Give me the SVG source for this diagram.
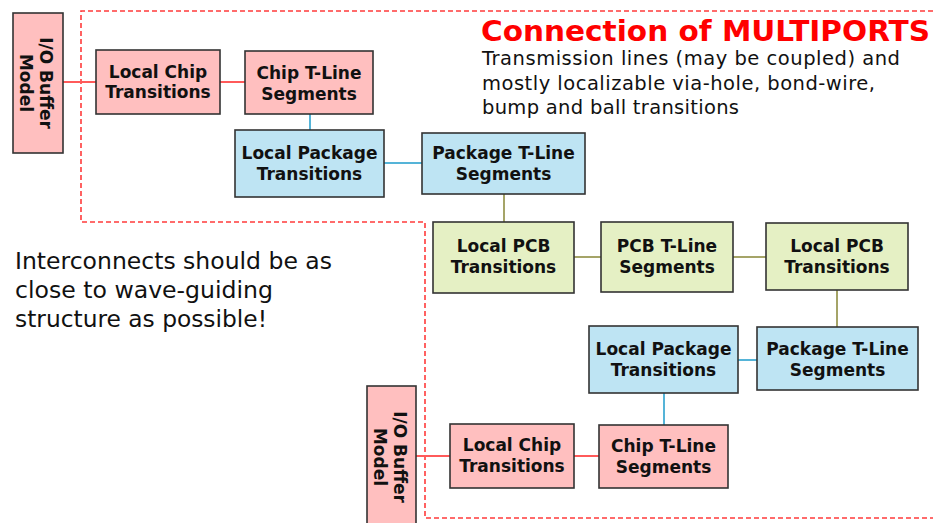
<svg xmlns="http://www.w3.org/2000/svg" width="933" height="523" viewBox="0 0 933 523">
<style>
.box{stroke:#333;stroke-width:1.6}
.pink{fill:#ffbfbf}
.blue{fill:#bee4f3}
.green{fill:#e5f0c4}
.lbl{font-family:"DejaVu Sans",Verdana,sans-serif;font-weight:bold;font-size:17px;fill:#111;text-anchor:middle}
.cr{stroke:#ff5a5a;stroke-width:2;fill:none}
.cb{stroke:#55b4d8;stroke-width:2;fill:none}
.cg{stroke:#a5a468;stroke-width:2;fill:none}
.body{font-family:"DejaVu Sans",Verdana,sans-serif;fill:#111}
</style>
<rect width="933" height="523" fill="#fff"/>
<path d="M933,11 H81 V222 H425 V518 H933" fill="none" stroke="#ff3b3b" stroke-width="1.6" stroke-dasharray="5,3"/>
<g id="connectors">
<line class="cr" x1="63" y1="82" x2="96" y2="82"/>
<line class="cr" x1="220" y1="82" x2="245" y2="82"/>
<line class="cb" x1="310" y1="114" x2="310" y2="130"/>
<line class="cb" x1="384" y1="163" x2="422" y2="163"/>
<line class="cg" x1="504" y1="194" x2="504" y2="222"/>
<line class="cg" x1="574" y1="257" x2="601" y2="257"/>
<line class="cg" x1="733" y1="257" x2="766" y2="257"/>
<line class="cg" x1="837" y1="290" x2="837" y2="327"/>
<line class="cb" x1="738" y1="360" x2="757" y2="360"/>
<line class="cb" x1="664" y1="393" x2="664" y2="425"/>
<line class="cr" x1="574" y1="456" x2="599" y2="456"/>
<line class="cr" x1="416" y1="456" x2="450" y2="456"/>
</g>
<g id="io1">
<rect class="box pink" x="13" y="13" width="50" height="140"/>
<text class="lbl" transform="translate(38,83) rotate(90)"><tspan x="0" y="-2">I/O Buffer</tspan><tspan x="0" y="18">Model</tspan></text>
</g>
<g id="localchip1">
<rect class="box pink" x="96" y="50" width="124" height="64"/>
<text class="lbl"><tspan x="158" y="78">Local Chip</tspan><tspan x="158" y="98">Transitions</tspan></text>
</g>
<g id="chiptline1">
<rect class="box pink" x="245" y="51" width="128" height="63"/>
<text class="lbl"><tspan x="309" y="79">Chip T-Line</tspan><tspan x="309" y="100">Segments</tspan></text>
</g>
<g id="localpkg1">
<rect class="box blue" x="235" y="130" width="149" height="67"/>
<text class="lbl"><tspan x="309.5" y="159">Local Package</tspan><tspan x="309.5" y="180">Transitions</tspan></text>
</g>
<g id="pkgtline1">
<rect class="box blue" x="422" y="133" width="163" height="61"/>
<text class="lbl"><tspan x="503.5" y="159">Package T-Line</tspan><tspan x="503.5" y="180">Segments</tspan></text>
</g>
<g id="localpcb1">
<rect class="box green" x="433" y="222" width="141" height="71"/>
<text class="lbl"><tspan x="503.5" y="252">Local PCB</tspan><tspan x="503.5" y="273">Transitions</tspan></text>
</g>
<g id="pcbtline">
<rect class="box green" x="601" y="222" width="132" height="70"/>
<text class="lbl"><tspan x="667" y="252">PCB T-Line</tspan><tspan x="667" y="273">Segments</tspan></text>
</g>
<g id="localpcb2">
<rect class="box green" x="766" y="223" width="142" height="67"/>
<text class="lbl"><tspan x="837" y="252">Local PCB</tspan><tspan x="837" y="273">Transitions</tspan></text>
</g>
<g id="pkgtline2">
<rect class="box blue" x="757" y="327" width="161" height="63"/>
<text class="lbl"><tspan x="837.5" y="355">Package T-Line</tspan><tspan x="837.5" y="376">Segments</tspan></text>
</g>
<g id="localpkg2">
<rect class="box blue" x="589" y="326" width="149" height="67"/>
<text class="lbl"><tspan x="663.5" y="355">Local Package</tspan><tspan x="663.5" y="376">Transitions</tspan></text>
</g>
<g id="chiptline2">
<rect class="box pink" x="599" y="425" width="129" height="63"/>
<text class="lbl"><tspan x="663.5" y="452">Chip T-Line</tspan><tspan x="663.5" y="473">Segments</tspan></text>
</g>
<g id="localchip2">
<rect class="box pink" x="450" y="424" width="124" height="64"/>
<text class="lbl"><tspan x="512" y="451">Local Chip</tspan><tspan x="512" y="472">Transitions</tspan></text>
</g>
<g id="io2">
<rect class="box pink" x="367" y="386" width="49" height="145"/>
<text class="lbl" transform="translate(391.5,457) rotate(90)"><tspan x="0" y="-2">I/O Buffer</tspan><tspan x="0" y="18">Model</tspan></text>
</g>
<g id="texts">
<text x="481" y="41" font-family="'DejaVu Sans',Verdana,sans-serif" font-weight="bold" font-size="29" fill="#ff0000" textLength="449" lengthAdjust="spacingAndGlyphs">Connection of MULTIPORTS</text>
<text class="body" font-size="19.5" x="482" y="65" textLength="418" lengthAdjust="spacing">Transmission lines (may be coupled) and</text>
<text class="body" font-size="19.5" x="482" y="90" textLength="393" lengthAdjust="spacing">mostly localizable via-hole, bond-wire,</text>
<text class="body" font-size="19.5" x="482" y="114" textLength="257" lengthAdjust="spacing">bump and ball transitions</text>
<text class="body" font-size="23" x="15" y="269" textLength="317" lengthAdjust="spacingAndGlyphs">Interconnects should be as</text>
<text class="body" font-size="23" x="15" y="298" textLength="258" lengthAdjust="spacingAndGlyphs">close to wave-guiding</text>
<text class="body" font-size="23" x="15" y="327" textLength="252" lengthAdjust="spacingAndGlyphs">structure as possible!</text>
</g>
</svg>
